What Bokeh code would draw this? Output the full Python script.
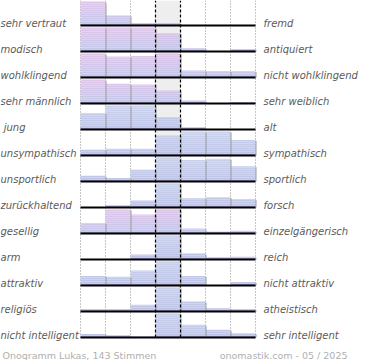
from bokeh.plotting import figure
from bokeh.models import Range1d
from bokeh.core.properties import value
from bokeh.embed import file_html
from bokeh.resources import INLINE

# ---------------- data ----------------
left_labels = ["sehr vertraut", "modisch", "wohlklingend", "sehr männlich", "\u00a0jung",
               "unsympathisch", "unsportlich", "zurückhaltend", "gesellig", "arm",
               "attraktiv", "religiös", "nicht intelligent"]
right_labels = ["fremd", "antiquiert", "nicht wohlklingend", "sehr weiblich", "alt",
                "sympathisch", "sportlich", "forsch", "einzelgängerisch", "reich",
                "nicht attraktiv", "atheistisch", "sehr intelligent"]
# relative share per scale step (100 = most chosen step of the row)
shares = [
    [100, 42, 10, 10, 0, 0, 0],
    [100, 100, 100, 77, 14, 0, 10],
    [100, 87, 90, 100, 29, 27, 27],
    [100, 82, 79, 54, 12, 0, 5],
    [69, 100, 100, 52, 8, 0, 0],
    [24, 28, 28, 83, 100, 100, 65],
    [24, 15, 49, 100, 90, 95, 64],
    [0, 8, 29, 100, 39, 43, 35],
    [44, 100, 79, 100, 21, 7, 11],
    [0, 0, 21, 100, 25, 8, 11],
    [40, 36, 62, 100, 40, 0, 15],
    [10, 10, 28, 100, 42, 14, 10],
    [15, 8, 4, 100, 53, 32, 18],
]
pink_rows = [True, True, True, True, False, False, False, False, True, False, False, False, False]
footer_left = "Onogramm Lukas, 143 Stimmen"
footer_right = "onomastik.com - 05 / 2025"

# ---------------- layout ----------------
W, H = 370, 360
PX_X, PX_Y = 25.0, 26.0      # pixels per scale step / per row
X0, Y0 = 80.0, 337.0         # pixel position of the grid origin
BAR_MAX = 24.0 / PX_Y        # full bar height in row units
n_rows = len(shares)
n_cols = len(shares[0])
top_y = Y0 / PX_Y

p = figure(width=W, height=H, output_backend="svg", toolbar_location=None,
           x_range=Range1d(-X0 / PX_X, (W - X0) / PX_X),
           y_range=Range1d(-(H - Y0) / PX_Y, top_y),
           x_axis_type=None, y_axis_type=None, min_border=0)
p.outline_line_color = None
p.background_fill_color = "white"
p.border_fill_color = "white"

# neutral middle column
p.quad(left=[3], right=[4], bottom=[0], top=[top_y], fill_color="#eeeeee", line_color=None)

# dotted column separators
dot_x = [0, 1, 2, 5, 6, 7]
p.segment(x0=dot_x, y0=[0] * len(dot_x), x1=dot_x, y1=[top_y] * len(dot_x),
          line_color="#8c8c8c", line_width=1, line_dash="1 2")

# bars with a vertical gradient (bands)
def mix(c1, c2, t):
    return "#%02x%02x%02x" % tuple(int(round(a + (b - a) * t)) for a, b in zip(c1, c2))

N_BANDS = 12
band_h = BAR_MAX / N_BANDS
L, R, B, T, C = [], [], [], [], []
sx0, sy0, sy1 = [], [], []
for r, row in enumerate(shares):
    base = n_rows - 1 - r
    if pink_rows[r]:
        c_top, c_bot = (223, 197, 234), (194, 199, 233)
    else:
        c_top, c_bot = (201, 209, 236), (190, 196, 231)
    for i, v in enumerate(row):
        h = v / 100.0 * BAR_MAX
        if h <= 0:
            continue
        for k in range(N_BANDS):
            b = k * band_h
            if b >= h:
                break
            t = min(h, (k + 1) * band_h)
            L.append(i); R.append(i + 1)
            B.append(base + b); T.append(base + t)
            if k == 0:
                C.append("#a7a1d2")
            else:
                C.append(mix(c_bot, c_top, k / (N_BANDS - 1)))
        sx0.append(i + 1 + 0.5 / PX_X)
        sy0.append(base)
        sy1.append(base + max(h - 1.0 / PX_Y, 0))

p.quad(left=L, right=R, bottom=B, top=T, fill_color=C, line_color=None)
p.segment(x0=sx0, y0=sy0, x1=sx0, y1=sy1, line_color="#9a9a9a", line_width=1)

# dashed neutral borders
dash_x = [3, 4]
p.segment(x0=dash_x, y0=[0, 0], x1=dash_x, y1=[top_y, top_y],
          line_color="black", line_width=1.2, line_dash="3 2")

# row baselines
bases = [n_rows - 1 - r for r in range(n_rows)]
p.segment(x0=[0] * n_rows, y0=bases, x1=[n_cols] * n_rows, y1=bases,
          line_color="black", line_width=2)

# labels
lab_y = [b + 2.0 / PX_Y for b in bases]
p.text(x=[-X0 / PX_X] * n_rows, y=lab_y, text=left_labels,
       text_font=value("DejaVu Sans"), text_font_style="italic", text_font_size="10px",
       text_color="#5a5a5a", text_align="left", text_baseline="alphabetic")
p.text(x=[n_cols + 8.0 / PX_X] * n_rows, y=lab_y, text=right_labels,
       text_font=value("DejaVu Sans"), text_font_style="italic", text_font_size="10px",
       text_color="#5a5a5a", text_align="left", text_baseline="alphabetic")

# footer
foot_y = -18.0 / PX_Y
p.text(x=[-X0 / PX_X + 2.0 / PX_X], y=[foot_y], text=[footer_left],
       text_font=value("DejaVu Sans"), text_font_size="9.5px",
       text_color="#b0b0b0", text_align="left", text_baseline="alphabetic")
p.text(x=[(347 - X0) / PX_X], y=[foot_y], text=[footer_right],
       text_font=value("DejaVu Sans"), text_font_size="9.5px",
       text_color="#b0b0b0", text_align="right", text_baseline="alphabetic")

open("out.html", "w").write(file_html(p, INLINE))
